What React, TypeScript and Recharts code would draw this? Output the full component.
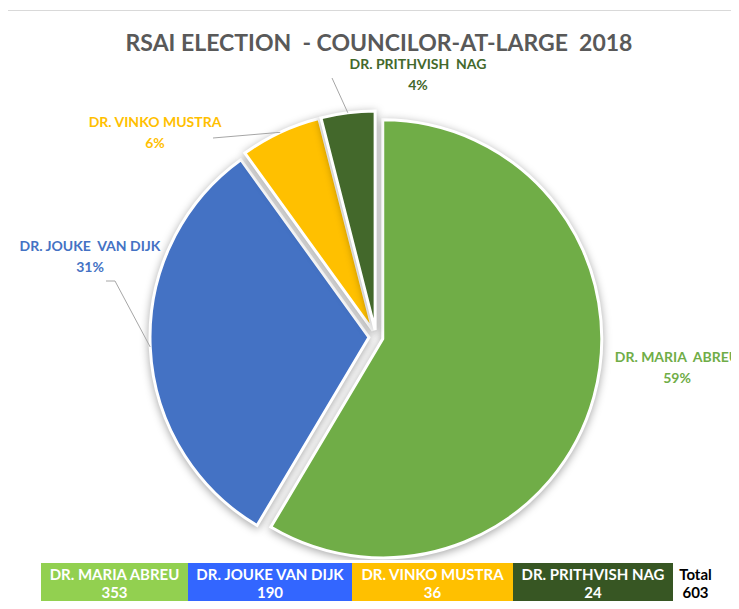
import React from 'react';
import { PieChart, Pie, Cell } from 'recharts';

const candidates = ['DR. MARIA ABREU', 'DR. JOUKE VAN DIJK', 'DR. VINKO MUSTRA', 'DR. PRITHVISH NAG'];
const pieLabels = ['DR. MARIA  ABREU', 'DR. JOUKE  VAN DIJK', 'DR. VINKO MUSTRA', 'DR. PRITHVISH  NAG'];
const votes = [353, 190, 36, 24];
const percentLabels = ['59%', '31%', '6%', '4%'];
const totalVotes = 603;

const sliceColors = ['#70AD47', '#4472C4', '#FFC000', '#43682B'];
const tableColors = ['#92D050', '#3366FF', '#FFC000', '#375623'];
const cellWidths = [147, 164, 161, 160];

const FONT = 'Lato, "Open Sans", sans-serif';
const CX = 376;
const CY = 337;
const R = 219;
const EXPLODE = 7;
const RAD = Math.PI / 180;

// label text centre / baseline + leader start (chart coords), per slice
const labelLayout = [
  { x: 677, y: 362, leader: null as number[][] | null },
  { x: 90, y: 251, leader: [[106, 281], [115, 281]] },
  { x: 155, y: 127, leader: [[213, 138]] },
  { x: 418, y: 69, leader: [[332, 78]] },
];

const data = candidates.map((name, i) => ({ name, value: votes[i] }));

const sum = votes.reduce((a, b) => a + b, 0);
const midAngles = votes.map((v, i) => {
  const before = votes.slice(0, i).reduce((a, b) => a + b, 0);
  return 90 - (360 * (before + v / 2)) / sum;
});

const makeLabel = (j: number) => (props: any) => {
  const { index, cx, cy, outerRadius, midAngle } = props;
  if (index !== j) return <g key={`l-${index}`} />;
  const lay = labelLayout[j];
  const ex = cx + outerRadius * Math.cos(-midAngle * RAD);
  const ey = cy + outerRadius * Math.sin(-midAngle * RAD);
  const pts = lay.leader ? [...lay.leader, [ex, ey]] : null;
  return (
    <g key={`l-${index}`}>
      {pts && (
        <polyline
          points={pts.map((p) => p.join(',')).join(' ')}
          fill="none"
          stroke="#A6A6A6"
          strokeWidth={1}
        />
      )}
      <text
        x={lay.x}
        y={lay.y}
        textAnchor="middle"
        fill={sliceColors[j]}
        fontFamily={FONT}
        fontWeight="bold"
        fontSize={14}
        style={{ whiteSpace: 'pre' }}
      >
        {pieLabels[j]}
      </text>
      <text
        x={lay.x}
        y={lay.y + 20.5}
        textAnchor="middle"
        fill={sliceColors[j]}
        fontFamily={FONT}
        fontWeight="bold"
        fontSize={14}
      >
        {percentLabels[j]}
      </text>
    </g>
  );
};

export default function App() {
  return (
    <div style={{ position: 'relative', width: 739, height: 609, margin: -8, background: '#fff', overflow: 'hidden' }}>
      <style>{`.pie-shadow .recharts-pie-sector path { filter: drop-shadow(0px 2px 4px rgba(0,0,0,0.35)); }`}</style>
      {/* chart frame */}
      <div
        style={{
          position: 'absolute',
          left: 7,
          top: 10,
          width: 760,
          height: 620,
          borderTop: '1px solid #D9D9D9',
          borderLeft: '1px solid #D9D9D9',
        }}
      />
      <div
        style={{
          position: 'absolute',
          left: 0,
          top: 27,
          width: 758,
          textAlign: 'center',
          fontFamily: FONT,
          fontSize: 23,
          lineHeight: '30px',
          fontWeight: 'bold',
          color: '#595959',
          whiteSpace: 'pre',
        }}
      >
        {'RSAI ELECTION  - COUNCILOR-AT-LARGE  2018'}
      </div>
      <div style={{ position: 'absolute', left: 0, top: 0 }}>
        <PieChart width={739} height={560} margin={{ top: 0, right: 0, bottom: 0, left: 0 }}>
          {data.map((_, j) => (
            <Pie
              key={j}
              data={data}
              dataKey="value"
              nameKey="name"
              cx={CX + EXPLODE * Math.cos(-midAngles[j] * RAD)}
              cy={CY + EXPLODE * Math.sin(-midAngles[j] * RAD)}
              outerRadius={R}
              startAngle={90}
              endAngle={-270}
              className="pie-shadow"
              isAnimationActive={false}
              labelLine={false}
              label={makeLabel(j)}
            >
              {data.map((_, i) => (
                <Cell
                  key={i}
                  fill={i === j ? sliceColors[i] : 'transparent'}
                  stroke={i === j ? '#fff' : 'none'}
                  strokeWidth={i === j ? 3 : 0}
                />
              ))}
            </Pie>
          ))}
        </PieChart>
      </div>
      {/* vote table */}
      <div
        style={{
          position: 'absolute',
          left: 41,
          top: 563,
          display: 'flex',
          height: 40,
          fontFamily: FONT,
          fontWeight: 'bold',
          fontSize: 15,
        }}
      >
        {candidates.map((c, i) => (
          <div
            key={c}
            style={{
              width: cellWidths[i],
              background: tableColors[i],
              color: '#fff',
              textAlign: 'center',
              lineHeight: '18px',
              paddingTop: 2,
              whiteSpace: 'nowrap',
            }}
          >
            <div>{c}</div>
            <div>{votes[i]}</div>
          </div>
        ))}
        <div style={{ width: 45, color: '#000', textAlign: 'center', lineHeight: '18px', paddingTop: 2 }}>
          <div>Total</div>
          <div>{totalVotes}</div>
        </div>
      </div>
    </div>
  );
}
